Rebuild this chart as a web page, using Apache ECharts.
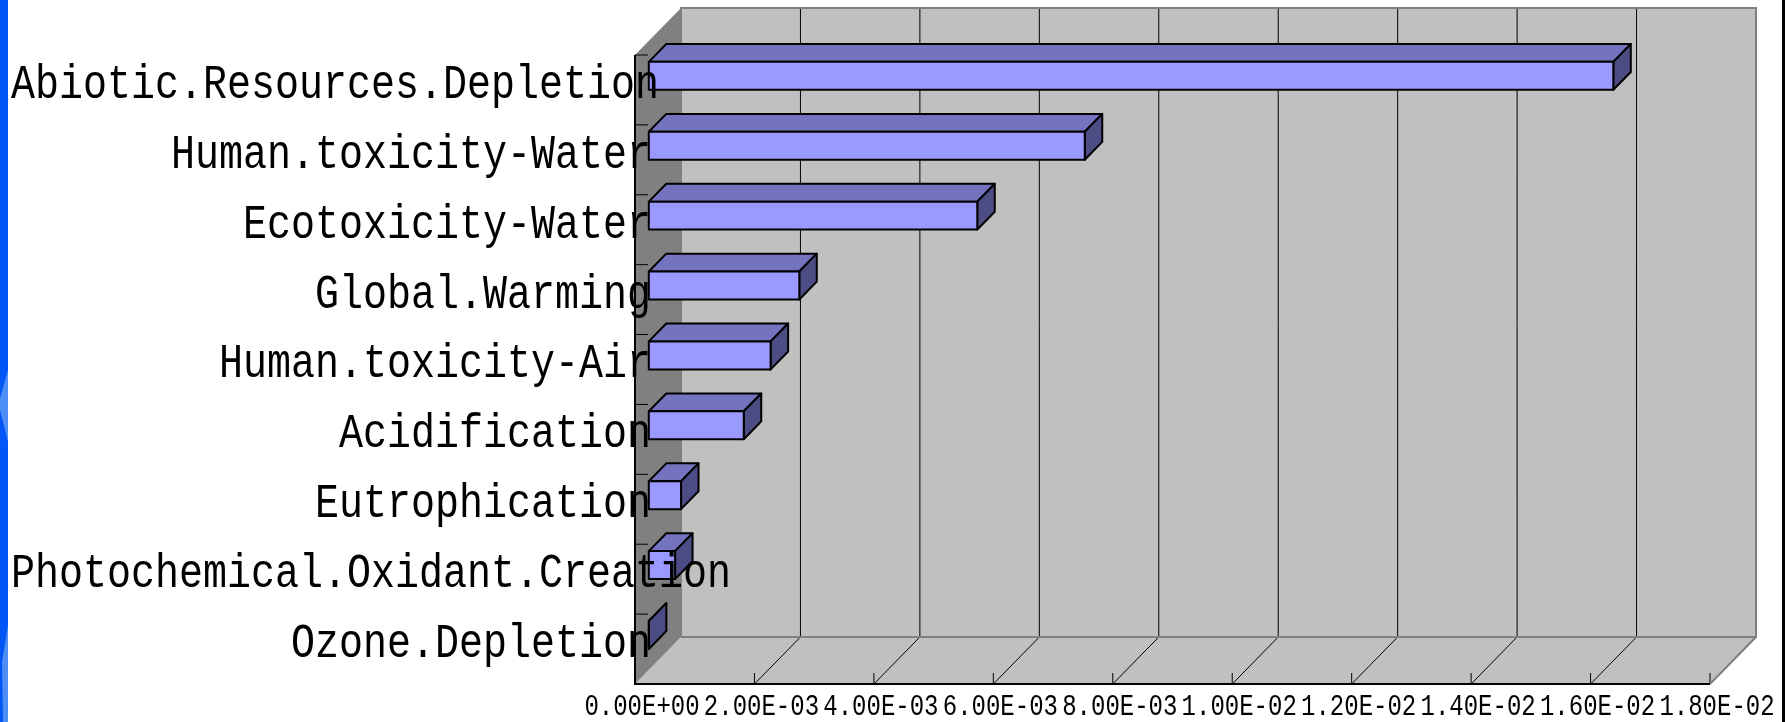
<!DOCTYPE html>
<html>
<head>
    <meta charset="utf-8"/>
    <title>ECharts</title>
    <script src="https://cdn.jsdelivr.net/npm/echarts@6/dist/echarts.min.js"></script>
</head>
<body style="margin:0;background:#fff">
<div id="main" style="width:1785px;height:722px"></div>
<script type="text/javascript">
    // categories, top to bottom
    var categories = ['Abiotic.Resources.Depletion', 'Human.toxicity-Water', 'Ecotoxicity-Water',
        'Global.Warming', 'Human.toxicity-Air', 'Acidification', 'Eutrophication',
        'Photochemical.Oxidant.Creation', 'Ozone.Depletion'];
    var values = [1.615e-2, 7.30e-3, 5.50e-3, 2.52e-3, 2.04e-3, 1.59e-3, 5.4e-4, 4.4e-4, 1e-6];
    // value axis ticks
    var xMin = 0, xMax = 0.018, xStep = 0.002;

    // 3d depth of the plot box (pixels) and where the bars sit inside it
    var DX = 46, DY = -47;
    var F1 = 0.30, F2 = 0.68;
    var labelFont = '40px "Liberation Mono"';
    var tickFont = '24px "Liberation Mono"';

    var ctx = document.createElement('canvas').getContext('2d');
    function textWidth(t, font) {
        ctx.font = font;
        return ctx.measureText(t).width;
    }

    function fmt(v) {
        var s = v.toExponential(2).toUpperCase();
        return s.replace(/E([+-])(\d)$/, 'E$10$2');
    }

    function renderWalls(params, api) {
        var cs = params.coordSys;
        var x0 = cs.x, x1 = cs.x + cs.width, y0 = cs.y, y1 = cs.y + cs.height;
        var ch = [];
        var black = {stroke: '#000', lineWidth: 1};
        // back wall
        ch.push({type: 'polygon', shape: {points: [[x0 + DX, y0 + DY], [x1 + DX, y0 + DY], [x1 + DX, y1 + DY], [x0 + DX, y1 + DY]]},
            style: {fill: '#c0c0c0'}});
        // floor
        ch.push({type: 'polygon', shape: {points: [[x0, y1], [x0 + DX, y1 + DY], [x1 + DX, y1 + DY], [x1, y1]]},
            style: {fill: '#c0c0c0'}});
        // grid lines on wall and floor, tick labels under the floor
        for (var v = xMin; v <= xMax + 1e-9; v += xStep) {
            var px = api.coord([v, 0])[0];
            if (v > xMin + 1e-9 && v < xMax - 1e-9) {
                ch.push({type: 'line', shape: {x1: px + DX, y1: y0 + DY, x2: px + DX, y2: y1 + DY}, style: black});
            }
            if (v > xMin + 1e-9) {
                ch.push({type: 'line', shape: {x1: px + DX, y1: y1 + DY, x2: px, y2: y1}, style: black});
                ch.push({type: 'line', shape: {x1: px, y1: y1, x2: px, y2: y1 - 11}, style: black});
            }
            ch.push({
                type: 'text', x: px + 7, y: y1 + 23, scaleY: 1.25,
                style: {text: fmt(v), font: tickFont, fill: '#000', align: 'center', verticalAlign: 'middle'}
            });
        }
        // wall borders
        ch.push({type: 'polyline', shape: {points: [[x0 + DX, y1 + DY], [x0 + DX, y0 + DY], [x1 + DX, y0 + DY], [x1 + DX, y1 + DY], [x0 + DX, y1 + DY]]},
            style: {fill: null, stroke: '#808080', lineWidth: 2}});
        ch.push({type: 'line', shape: {x1: x1 + DX, y1: y1 + DY, x2: x1, y2: y1}, style: {stroke: '#808080', lineWidth: 2}});
        // left wall
        ch.push({type: 'polygon', shape: {points: [[x0, y0], [x0 + DX, y0 + DY], [x0 + DX, y1 + DY], [x0, y1]]},
            style: {fill: '#808080'}});
        // category ticks
        var band = cs.height / categories.length;
        for (var i = 0; i <= categories.length; i++) {
            var ty = y0 + i * band;
            ch.push({type: 'line', shape: {x1: x0, y1: ty, x2: x0 + 13, y2: ty}, style: black});
        }
        // front axis lines
        ch.push({type: 'polyline', shape: {points: [[x0, y0], [x0, y1], [x1, y1]]},
            style: {fill: null, stroke: '#000', lineWidth: 2}});
        return {type: 'group', children: ch};
    }

    function renderBar(params, api) {
        var v = api.value(0), c = api.value(1);
        var s = api.coord([0, c]), e = api.coord([v, c]);
        var band = api.size([0, 1])[1];
        var h = band * 0.2;
        var xl = s[0] + DX * F1, xr = e[0] + DX * F1;
        var yt = s[1] - h + DY * F1, yb = s[1] + h + DY * F1;
        var ddx = DX * (F2 - F1), ddy = DY * (F2 - F1);
        var line = {stroke: '#000', lineWidth: 2, lineJoin: 'round'};
        return {
            type: 'group', children: [
                {type: 'polygon', shape: {points: [[xl, yt], [xr, yt], [xr + ddx, yt + ddy], [xl + ddx, yt + ddy]]},
                    style: Object.assign({fill: '#7373bf'}, line)},
                {type: 'polygon', shape: {points: [[xr, yt], [xr + ddx, yt + ddy], [xr + ddx, yb + ddy], [xr, yb]]},
                    style: Object.assign({fill: '#4d4d85'}, line)},
                {type: 'polygon', shape: {points: [[xl, yt], [xr, yt], [xr, yb], [xl, yb]]},
                    style: Object.assign({fill: '#9999ff'}, line)}
            ]
        };
    }

    function renderLabel(params, api) {
        var c = api.value(0);
        var p = api.coord([0, c]);
        var name = categories[c];
        var w = textWidth(name, labelFont);
        var left = Math.max(11, p[0] + 16 - w);
        return {
            type: 'text', x: left, y: p[1] - 5, scaleY: 1.22,
            style: {text: name, font: labelFont, fill: '#000', align: 'left', verticalAlign: 'middle'}
        };
    }

    var chart = echarts.init(document.getElementById('main'));
    var option = {
        backgroundColor: '#ffffff',
        animation: false,
        grid: {left: 635, right: 75, top: 55, bottom: 38},
        xAxis: {
            type: 'value', min: xMin, max: xMax, interval: xStep,
            axisLine: {show: false}, axisTick: {show: false}, splitLine: {show: false}, axisLabel: {show: false}
        },
        yAxis: {
            type: 'category', data: categories, inverse: true,
            axisLine: {show: false}, axisTick: {show: false}, axisLabel: {show: false}, splitLine: {show: false}
        },
        graphic: [
            {type: 'rect', shape: {x: 0, y: 0, width: 8, height: 722}, style: {fill: '#0057f5'}},
            {type: 'polygon', shape: {points: [[8, 370], [0, 398], [0, 410], [8, 442]]}, style: {fill: '#4c8df6'}},
            {type: 'polygon', shape: {points: [[8, 625], [2, 662], [3, 722], [8, 722]]}, style: {fill: '#4c8df6'}},
            {type: 'rect', shape: {x: 1782, y: 0, width: 3, height: 722}, style: {fill: '#000'}}
        ],
        series: [
            {type: 'custom', name: 'walls', data: [[0, 0]], renderItem: renderWalls, z: 1, silent: true},
            {
                type: 'custom', name: 'bars', renderItem: renderBar, z: 2,
                encode: {x: 0, y: 1},
                data: values.map(function (v, i) { return [v, i]; })
            },
            {
                type: 'custom', name: 'labels', renderItem: renderLabel, z: 5, silent: true,
                encode: {y: 0},
                data: categories.map(function (n, i) { return [i]; })
            }
        ]
    };
    chart.setOption(option);
</script>
</body>
</html>
